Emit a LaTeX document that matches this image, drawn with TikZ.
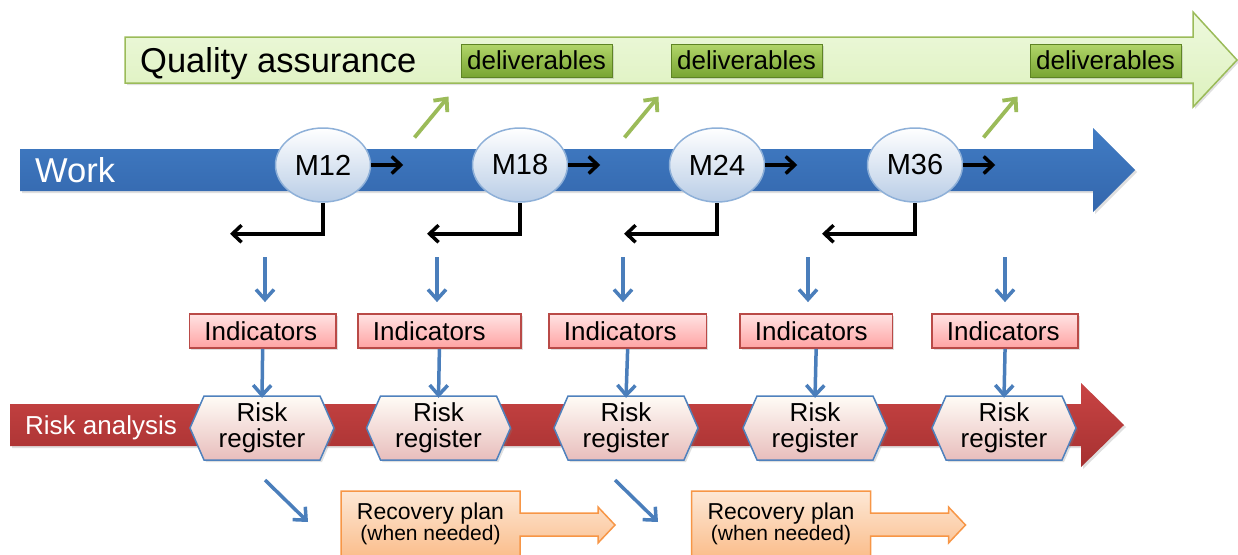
\documentclass[tikz,border=0pt]{standalone}
\usepackage{fontspec}
\setmainfont{Liberation Sans}
\usetikzlibrary{arrows.meta,shapes.geometric,shadows}

\definecolor{qaline}{HTML}{9BBB59}
\definecolor{qatop}{HTML}{EEF9DE}
\definecolor{qabot}{HTML}{DDF1BD}
\definecolor{deltop}{HTML}{B2D66A}
\definecolor{delbot}{HTML}{78A432}
\definecolor{delline}{HTML}{5E8424}
\definecolor{worktop}{HTML}{417CC4}
\definecolor{workbot}{HTML}{3366AC}
\definecolor{msline}{HTML}{8EB0D8}
\definecolor{msbot}{HTML}{B9CDE6}
\definecolor{arrblue}{HTML}{4A7EBB}
\definecolor{indline}{HTML}{B94A47}
\definecolor{indtop}{HTML}{FFE3E3}
\definecolor{indbot}{HTML}{FFA3A3}
\definecolor{risktop}{HTML}{C94444}
\definecolor{riskbot}{HTML}{A63131}
\definecolor{rrtop}{HTML}{FFFCF6}
\definecolor{rrbot}{HTML}{E8BDBC}
\definecolor{rrline}{HTML}{4F81BD}
\definecolor{rptop}{HTML}{FDE8D6}
\definecolor{rpbot}{HTML}{FAB57D}
\definecolor{rpline}{HTML}{F79646}

\tikzset{
  softshadow/.style={drop shadow={opacity=0.25,shadow xshift=2pt,shadow yshift=-2pt}},
  bigfont/.style={font=\fontsize{34.5}{38}\selectfont},
  midfont/.style={font=\fontsize{26}{26}\selectfont}
}

\begin{document}
\begin{tikzpicture}[x=1pt,y=-1pt,
  qabar/.style={draw=qaline,line width=1.5pt,top color=qatop,bottom color=qabot,softshadow},
  workbar/.style={top color=worktop,bottom color=workbot,softshadow},
  riskbar/.style={top color=risktop,bottom color=riskbot,softshadow},
  delbox/.style={rectangle,draw=delline,line width=1pt,top color=deltop,bottom color=delbot,
    minimum width=151pt,minimum height=33pt,inner sep=0pt,midfont,softshadow},
  mstone/.style={ellipse,draw=msline,line width=1.5pt,top color=white,bottom color=msbot,
    minimum width=95pt,minimum height=74pt,inner sep=0pt,font=\fontsize{29}{32}\selectfont},
  indbox/.style={rectangle,draw=indline,line width=1.8pt,top color=indtop,bottom color=indbot,
    minimum height=34pt,inner xsep=15pt,inner ysep=0pt,text width=#1,align=left,anchor=west,
    midfont,softshadow},
  rrshape/.style={draw=rrline,line width=1.5pt,top color=rrtop,bottom color=rrbot,softshadow},
  rrbox/.style={rectangle,minimum width=144pt,minimum height=64pt,inner sep=0pt,align=center,midfont},
  rpshape/.style={draw=rpline,line width=1.5pt,top color=rptop,bottom color=rpbot},
  blkarr/.style={-{Straight Barb[length=9pt,width=17pt]},line width=3.5pt,black},
  bluearr/.style={-{Straight Barb[length=10pt,width=18pt]},line width=3.5pt,arrblue},
  grnarr/.style={-{Straight Barb[length=10pt,width=18pt]},line width=3.8pt,qaline}]
\useasboundingbox (0,0) rectangle (1238,554);
\clip (0,0) rectangle (1238,554);

% quality assurance
\path[qabar] (125,37) -- (1193,37) -- (1193,12) -- (1237,60) -- (1193,107) -- (1193,83) -- (125,83) -- cycle;
\node[bigfont,anchor=base west,inner sep=0pt] (qa) at (140,72) {Quality assurance};
\foreach \i/\x in {1/536.5,2/746.5,3/1105.5}
  \node[delbox] (del\i) at (\x,60.5) {deliverables};

% work
\path[workbar] (20,149) -- (1093,149) -- (1093,128) -- (1135,170) -- (1093,212) -- (1093,191) -- (20,191) -- cycle;
\node[bigfont,text=white,anchor=base west,inner sep=0pt] (work) at (35,182) {Work};
\foreach \i/\x/\t in {1/323/M12,2/520/M18,3/717/M24,4/915/M36}{
  \node[mstone] (m\i) at (\x,165) {\t};
  \draw[blkarr] (m\i.east) -- ++(32,0);
  \draw[blkarr] (m\i.south) -- ++(0,31) -- ++(-93,0);
}
\foreach \i in {1,2,3}
  \draw[grnarr] ([xshift=-46pt,yshift=-60pt]del\i.south west) -- ([xshift=-12pt,yshift=-19pt]del\i.south west);

% risk analysis
\path[riskbar] (10,404) -- (1081,404) -- (1081,383) -- (1124,425) -- (1081,467) -- (1081,446) -- (10,446) -- cycle;
\node[midfont,text=white,anchor=base west,inner sep=0pt] (risk) at (25,434) {Risk analysis};

\foreach \i/\x/\w/\a in {1/188.5/116.5/265,2/357/133/437,3/548/127.5/623,4/739/122.5/808,5/931/116.3/1005}{
  \node[indbox=\w pt] (ind\i) at (\x,331) {Indicators};
  \coordinate (top\i) at (\a,257);
  \draw[bluearr,shorten >=11pt] (top\i) -- (top\i |- ind\i.north);
}
\foreach \i/\x in {1/262,2/438.5,3/626,4/815,5/1004}{
  \path[rrshape] (\x-72,428) -- (\x-58,396) -- (\x+58,396) -- (\x+72,428) -- (\x+58,460) -- (\x-58,460) -- cycle;
  \node[rrbox] (rr\i) at (\x,428) {Risk\\register};
  \draw[bluearr] (ind\i.south) -- ([yshift=-2pt]rr\i.north);
}

% recovery plans
\foreach \i/\x in {1/341,2/691.5}{
  \path[rpshape] (\x,491) -- (\x+179,491) -- (\x+179,513) -- (\x+257,513) -- (\x+257,507) -- (\x+274,525)
    -- (\x+257,543) -- (\x+257,536) -- (\x+179,536) -- (\x+179,570) -- (\x,570) -- cycle;
  \node[align=center,inner sep=0pt,font=\fontsize{23}{21}\selectfont] (rp\i) at (\x+89.5,524)
    {Recovery plan\\{\fontsize{21}{21}\selectfont(when needed)}};
}
\draw[bluearr] ([xshift=3pt,yshift=-52pt]rr1.center) -- ++(43,42);
\draw[bluearr] ([xshift=-11pt,yshift=-52pt]rr3.center) -- ++(43,42);
\end{tikzpicture}
\end{document}
